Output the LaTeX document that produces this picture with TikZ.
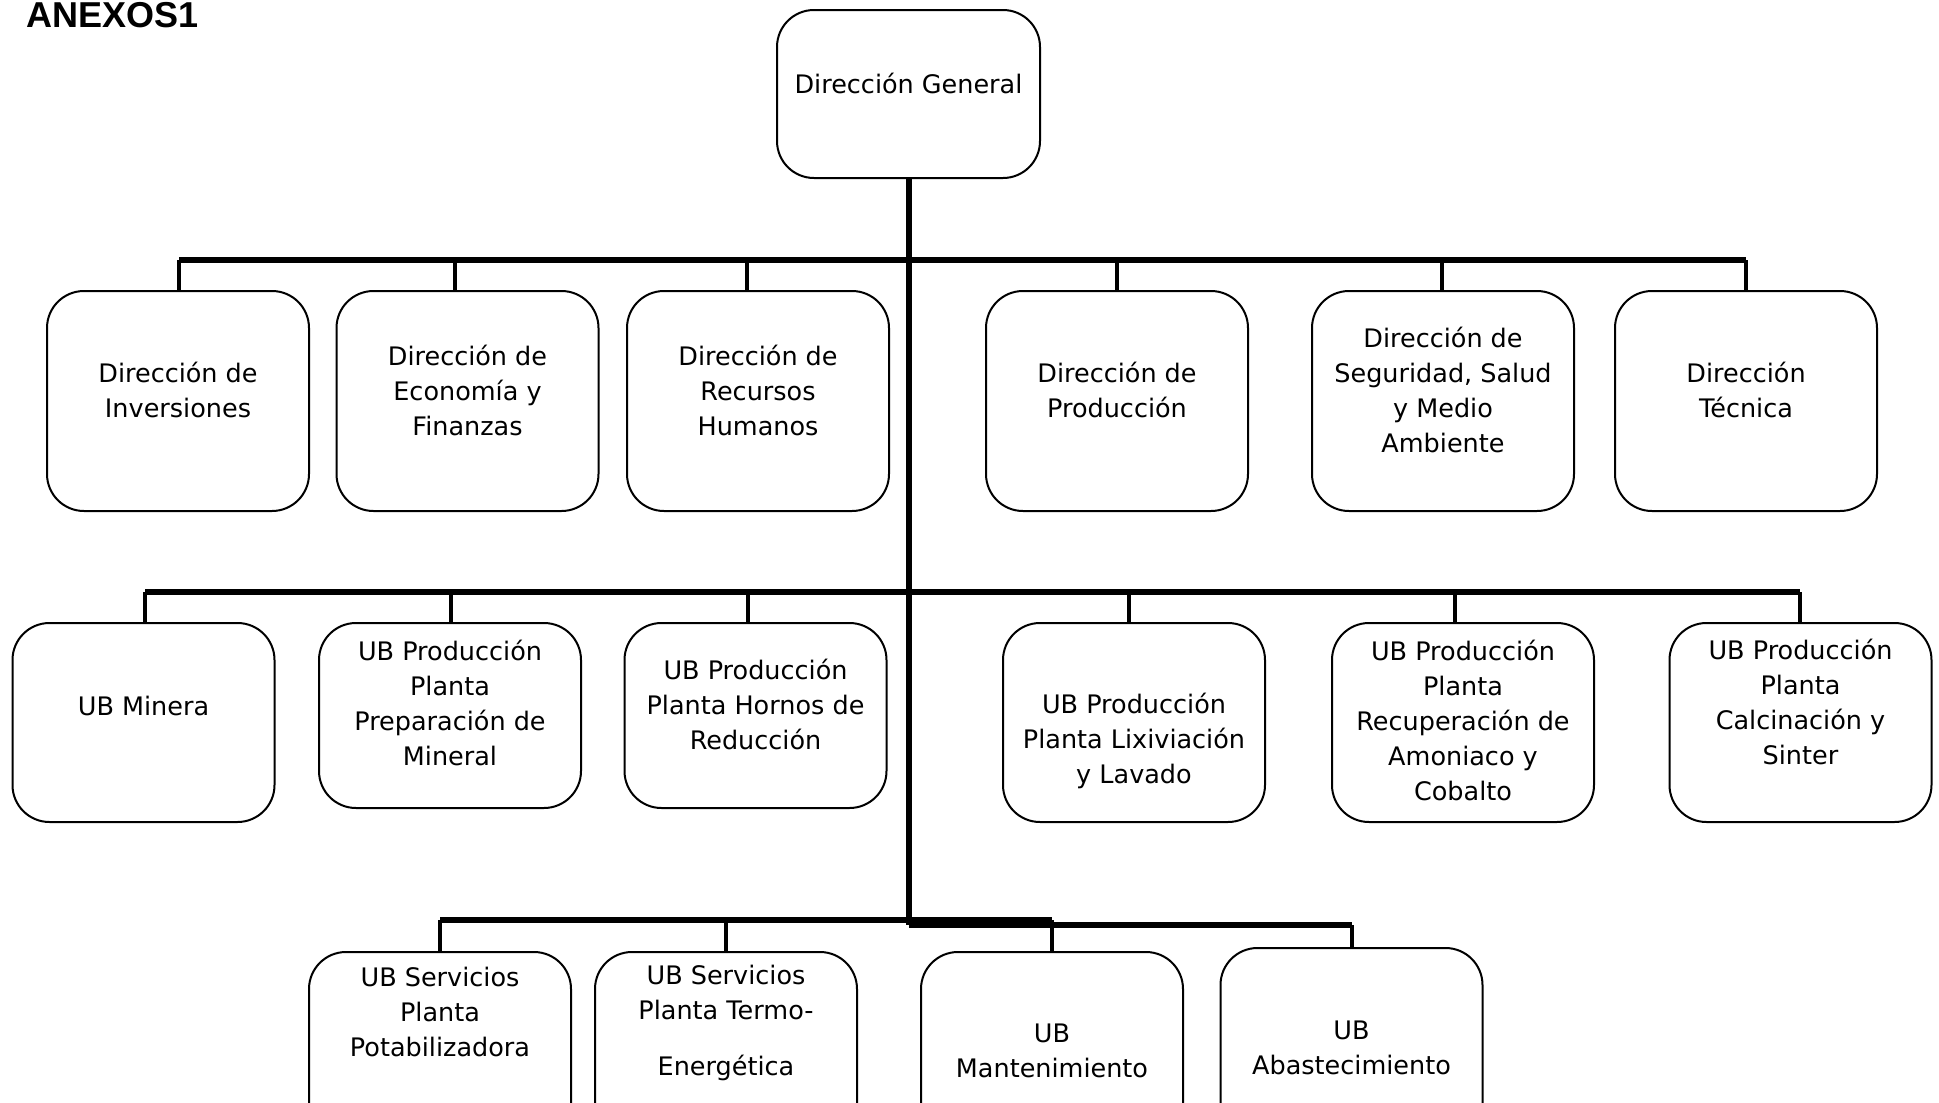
\documentclass[tikz,border=0pt]{standalone}
\usepackage{fontspec}
\setmainfont{DejaVu Sans}
\newfontfamily\titlefont{Liberation Sans}
\begin{document}
\begin{tikzpicture}[x=1pt,y=-1pt,
  box/.style={draw=black,line width=2pt,rounded corners=37pt,minimum width=262pt,inner sep=0pt,fill=white},
  txt/.style={align=center,font=\fontsize{25.5}{35}\selectfont,inner sep=0pt},
  bus/.style={line width=6.5pt},
  drop/.style={line width=4.5pt}]
\useasboundingbox (0,0) rectangle (1939,1103);
\clip (0,0) rectangle (1939,1103);
% title
\node[anchor=base west,inner sep=0pt,font=\titlefont\bfseries\fontsize{36}{40}\selectfont] (title) at (26,27) {ANEXOS1};
% top
\node[box,minimum width=263pt,minimum height=168pt] (dg) at (908.5,94) {};
\node[txt] (tdg) at (908.5,83) {Dirección General};
% bus coordinates
\coordinate (b1l) at (179,260);
\coordinate (b1r) at (1746,260);
\coordinate (b2l) at (145,592);
\coordinate (b2r) at (1800,592);
\coordinate (b3l) at (440,920);
\coordinate (b3m) at (1052,920);
\coordinate (b3a) at (909,925);
\coordinate (b3r) at (1352,925);
% row 1
\foreach \n/\x/\c in {r11/179/178, r12/455/467.5, r13/747/758, r14/1117/1117, r15/1442/1443, r16/1746/1746}{
  \node[box,minimum height=220pt] (\n) at (\c,401) {};
  \coordinate (d\n) at (\x,260);
  \draw[drop] (d\n) -- (d\n |- \n.north);
}
\node[txt] (t11) at (178,390) {Dirección de\\Inversiones};
\node[txt] (t12) at (467.5,390) {Dirección de\\Economía y\\Finanzas};
\node[txt] (t13) at (758,390) {Dirección de\\Recursos\\Humanos};
\node[txt] (t14) at (1117,390) {Dirección de\\Producción};
\node[txt] (t15) at (1443,390) {Dirección de\\Seguridad, Salud\\y Medio\\Ambiente};
\node[txt] (t16) at (1746,390) {Dirección\\Técnica};
% row 2
\foreach \n/\x/\c/\h in {r21/145/143.5/199, r22/451/450/185, r23/748/755.5/185, r24/1129/1134/199, r25/1455/1463/199, r26/1800/1800.5/199}{
  \node[box,minimum height=\h pt,anchor=north] (\n) at (\c,622) {};
  \coordinate (d\n) at (\x,592);
  \draw[drop] (d\n) -- (d\n |- \n.north);
}
\node[txt] (t21) at (143.5,706) {UB Minera};
\node[txt] (t22) at (450,703) {UB Producción\\Planta\\Preparación de\\Mineral};
\node[txt] (t23) at (755.5,704) {UB Producción\\Planta Hornos de\\Reducción};
\node[txt] (t24) at (1134,741) {UB Producción\\Planta Lixiviación\\y Lavado};
\node[txt] (t25) at (1463,720) {UB Producción\\Planta\\Recuperación de\\Amoniaco y\\Cobalto};
\node[txt] (t26) at (1800.5,702) {UB Producción\\Planta\\Calcinación y\\Sinter};
% row 3
\foreach \n/\x/\c/\t in {r31/440/440/951, r32/726/726/951, r33/1052/1052/951, r34/1352/1351.5/947}{
  \node[box,minimum height=220pt,anchor=north] (\n) at (\c,\t) {};
  \coordinate (d\n) at (\x,\t);
}
\draw[drop] (b3l) -- (dr31);
\draw[drop] (726,920) -- (dr32);
\draw[drop] (b3m) -- (dr33);
\draw[drop] (b3r) -- (dr34);
\node[txt] (t31) at (440,1011.5) {UB Servicios\\Planta\\Potabilizadora};
\node[txt] (t32) at (726,1022.5) {UB Servicios\\Planta Termo-\\[21pt]Energética};
\node[txt] (t33) at (1052,1051) {UB\\Mantenimiento};
\node[txt] (t34) at (1351.5,1047.5) {UB\\Abastecimiento};
% buses and trunk
\draw[bus] (b1l) -- (b1r);
\draw[bus] (b2l) -- (b2r);
\draw[bus] (b3l) -- (b3m);
\draw[bus] (b3a) -- (b3r);
\draw[bus] (dg.south -| b3a) -- (b3a);
\end{tikzpicture}
\end{document}
